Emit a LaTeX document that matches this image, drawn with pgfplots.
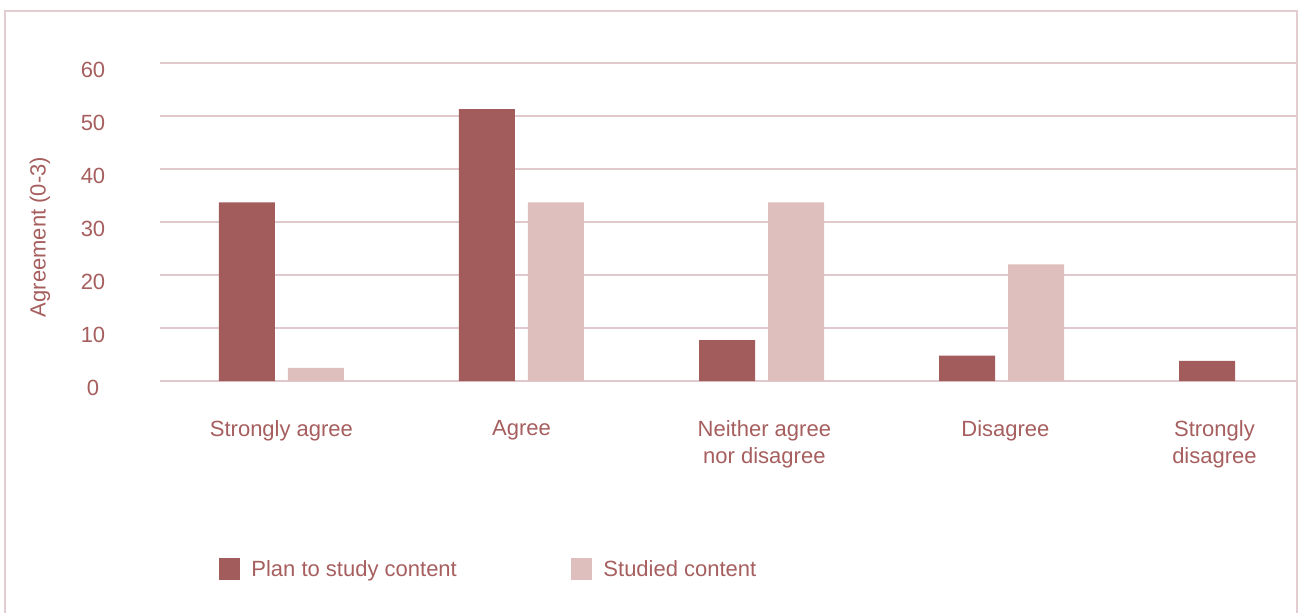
\documentclass[border=0pt]{standalone}
\usepackage{pgfplots}
\pgfplotsset{compat=1.18}
\usepackage{fontspec}
\setmainfont{Liberation Sans}
\definecolor{planc}{HTML}{A15C5B}
\definecolor{studc}{HTML}{DEBFBD}
\definecolor{txtc}{HTML}{A65E5E}
\definecolor{gridc}{HTML}{E0C8CC}
\definecolor{framec}{HTML}{E3CDD0}
\begin{document}
\begin{tikzpicture}
\path[use as bounding box] (-80pt,-115.5pt) rectangle (569.5pt,190.5pt);
\draw[framec, line width=0.75pt] (-77.5pt,-125pt) rectangle (568.5pt,185pt);
\begin{axis}[
  scale only axis,
  width=568.5pt, height=159pt,
  xmin=-0.506, xmax=4.231,
  ymin=0, ymax=60,
  ytick={0,10,20,30,40,50,60},
  xtick={0,1,2.012,3.016,3.887},
  xticklabels={Strongly agree, Agree, {Neither agree\\nor disagree}, Disagree, {Strongly\\disagree}},
  ymajorgrids,
  major grid style={gridc, line width=0.7pt},
  axis line style={draw=none},
  major tick length=0pt,
  clip=false,
  /pgf/number format/assume math mode=true,
  ticklabel style={text=txtc, font=\fontsize{11pt}{13.5pt}\selectfont},
  yticklabel style={anchor=center, xshift=-33.5pt, yshift=-3.3pt},
  xticklabel style={anchor=north, align=center, yshift=-16.1pt},
  ylabel={Agreement (0-3)},
  ylabel style={at={(axis description cs:-0.1055,0.4528)}, anchor=center, text=txtc, font=\fontsize{11pt}{13.5pt}\selectfont},
  legend style={draw=none, fill=none, inner sep=0pt, at={(axis description cs:0,0)}, anchor=west, xshift=29.5pt, yshift=-93.8pt,
    font=\fontsize{11pt}{13.5pt}\selectfont, text=txtc, nodes={inner sep=0pt},
    /tikz/every odd column/.append style={column sep=5.5pt},
    /tikz/every even column/.append style={column sep=57.3pt}},
  legend columns=2,
  legend cell align=left,
  legend image code/.code={\path[#1, draw=none] (0pt,-4.8pt) rectangle (10.5pt,6.2pt);},
]
\addplot[ybar, bar width=28pt, bar shift=-17.25pt, fill=planc, draw=none] coordinates {(0,33.7) (1,51.3) (2,7.7) (3,4.8) (4,3.8)};
\addplot[ybar, bar width=28pt, bar shift=17.25pt, fill=studc, draw=none] coordinates {(0,2.5) (1,33.7) (2,33.7) (3,22.0)};
\legend{Plan to study content, Studied content}
\end{axis}
\end{tikzpicture}
\end{document}
